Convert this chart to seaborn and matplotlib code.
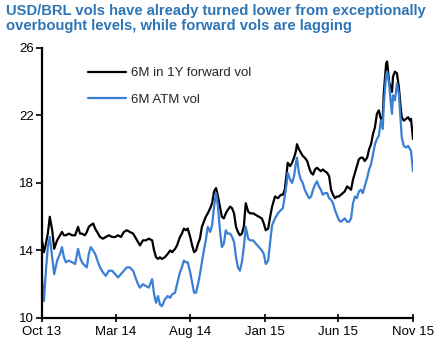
import numpy as np
import pandas as pd
import matplotlib
matplotlib.use("Agg")
import matplotlib.pyplot as plt
import matplotlib.dates as mdates
import seaborn as sns
from matplotlib.lines import Line2D

start_date = "2013-10-01"
day_offsets = [0, 4, 8, 12, 16, 21, 25, 31, 37, 41, 45, 49, 55, 62, 68, 74, 78, 82, 88, 92,
               96, 100, 105, 109, 115, 119, 125, 131, 137, 144, 150, 156, 162, 168, 174, 180,
               187, 193, 197, 201, 207, 213, 219, 226, 230, 234, 238, 242, 246, 252, 258, 263,
               267, 273, 277, 283, 287, 291, 295, 299, 304, 308, 312, 316, 320, 324, 328, 332,
               336, 340, 345, 349, 353, 357, 361, 365, 369, 373, 377, 381, 386, 390, 394, 398,
               402, 406, 410, 414, 418, 423, 427, 433, 439, 445, 451, 455, 459, 464, 468, 472,
               478, 484, 490, 494, 498, 502, 504, 509, 513, 517, 521, 523, 527, 531, 535, 539,
               544, 548, 552, 556, 560, 564, 568, 572, 576, 580, 585, 589, 593, 597, 601, 605,
               609, 613, 617, 621, 626, 630, 634, 638, 642, 646, 650, 654, 658, 662, 667, 671,
               675, 679, 683, 687, 691, 695, 699, 701, 706, 708, 712, 716, 718, 720, 724, 728,
               732, 736, 738, 742, 747, 751, 755, 757, 761]

fwd_vol = [14.6, 13.9, 14.4, 15.0, 16.0, 15.2, 14.1, 14.6, 14.9, 15.1, 14.9, 14.9, 15.0, 14.9,
           14.9, 15.4, 15.0, 15.0, 14.9, 15.1, 15.4, 15.5, 15.6, 15.3, 15.0, 14.8, 14.7, 14.8,
           14.9, 14.8, 14.8, 14.9, 14.8, 15.1, 15.2, 15.1, 15.0, 14.7, 14.5, 14.3, 14.6, 14.6,
           14.7, 14.6, 14.0, 13.6, 13.5, 13.6, 13.5, 13.6, 13.8, 14.0, 13.9, 14.1, 14.3, 14.8,
           15.0, 15.3, 15.2, 15.3, 14.8, 14.3, 13.9, 14.0, 14.4, 14.7, 15.4, 15.7, 16.0, 16.2,
           16.5, 16.8, 17.5, 17.7, 17.2, 16.6, 16.0, 15.9, 16.2, 16.4, 16.6, 16.5, 16.2, 15.4,
           15.1, 14.9, 15.0, 15.4, 16.8, 16.3, 16.2, 16.2, 16.1, 16.0, 15.9, 15.6, 15.2, 15.3,
           16.0, 16.6, 17.2, 17.1, 17.3, 17.3, 17.6, 18.6, 19.2, 19.0, 19.2, 19.5, 19.9, 20.3,
           20.0, 19.8, 19.6, 19.5, 19.3, 18.9, 18.6, 18.5, 18.8, 18.9, 18.8, 18.7, 18.8, 18.7,
           18.6, 18.4, 17.6, 17.3, 17.1, 17.2, 17.2, 17.3, 17.4, 17.5, 17.8, 17.7, 17.6, 18.2,
           18.6, 19.0, 19.4, 19.5, 19.5, 19.3, 19.5, 20.0, 20.3, 20.9, 21.3, 22.1, 22.3, 21.8,
           21.9, 23.3, 25.1, 25.2, 24.0, 23.6, 23.4, 24.3, 24.6, 24.5, 23.7, 22.4, 21.9, 21.7,
           21.8, 21.9, 21.7, 21.8, 20.6]

atm_vol = [12.4, 11.0, 12.8, 14.2, 14.8, 13.6, 12.6, 13.4, 13.8, 14.2, 13.6, 13.3, 13.4, 13.3,
           13.2, 14.1, 13.6, 13.3, 13.1, 13.0, 13.8, 14.2, 14.0, 13.8, 13.3, 13.0, 12.7, 12.5,
           12.8, 12.8, 12.6, 12.4, 12.6, 12.8, 13.0, 13.0, 12.8, 12.3, 12.0, 11.8, 12.0, 11.9,
           11.8, 12.3, 11.4, 10.9, 11.3, 10.8, 10.7, 11.1, 11.3, 11.2, 11.4, 11.5, 12.0, 12.7,
           13.0, 13.4, 13.3, 13.3, 12.7, 12.1, 11.5, 11.5, 12.0, 12.6, 13.3, 14.0, 14.6, 15.4,
           15.1, 15.5, 16.6, 17.4, 16.6, 15.2, 14.2, 14.4, 15.2, 15.0, 15.0, 14.8, 14.5, 13.6,
           13.0, 12.8, 13.3, 14.2, 15.4, 14.7, 14.6, 14.6, 14.4, 14.2, 14.0, 13.8, 13.2, 13.4,
           14.5, 15.5, 15.9, 16.2, 16.4, 16.5, 17.2, 18.0, 18.6, 18.2, 18.0, 18.4, 19.2, 19.5,
           18.6, 18.2, 18.0, 17.6, 17.3, 17.1, 17.2, 17.6, 17.9, 18.1, 17.8, 17.6, 17.3, 17.4,
           17.4, 17.1, 17.0, 16.8, 16.4, 16.1, 15.8, 15.7, 15.8, 15.9, 15.7, 15.7, 15.9, 16.8,
           17.2, 17.1, 17.5, 17.6, 17.4, 17.8, 18.3, 18.8, 19.1, 19.7, 20.3, 20.6, 20.8, 21.7,
           21.2, 22.6, 24.4, 24.6, 23.9, 22.6, 22.1, 23.2, 22.9, 23.9, 23.3, 21.5, 20.7, 20.2,
           20.1, 20.2, 20.0, 19.9, 18.7]

series_names = ["6M in 1Y forward vol", "6M ATM vol"]
y_ticks = [10, 14, 18, 22, 26]
x_tick_dates = ["2013-10-01", "2014-03-01", "2014-08-01", "2015-01-01", "2015-06-01", "2015-11-01"]
x_tick_labels = ["Oct 13", "Mar 14", "Aug 14", "Jan 15", "Jun 15", "Nov 15"]
title = "USD/BRL vols have already turned lower from exceptionally\noverbought levels, while forward vols are lagging"

dates = pd.Timestamp(start_date) + pd.to_timedelta(day_offsets, unit="D")
df = pd.concat([
    pd.DataFrame({"date": dates, "vol": fwd_vol, "series": series_names[0]}),
    pd.DataFrame({"date": dates, "vol": atm_vol, "series": series_names[1]}),
])

sns.set_theme(style="white")
plt.rcParams["font.family"] = ["Liberation Sans", "DejaVu Sans"]

fig = plt.figure(figsize=(4.36, 3.47), dpi=100)
ax = fig.add_axes([0.0963, 0.0836, 0.8509, 0.7781])

palette = {series_names[0]: "#000000", series_names[1]: "#3A7FD5"}
sns.lineplot(data=df, x="date", y="vol", hue="series", palette=palette,
             linewidth=1.6, ax=ax, legend=False)

ax.set_xlim(pd.Timestamp(x_tick_dates[0]), pd.Timestamp(x_tick_dates[-1]))
ax.set_ylim(10, 26)
ax.set_yticks(y_ticks)
ax.set_yticklabels([str(t) for t in y_ticks], fontsize=9.5, color="black")
ax.set_xticks([pd.Timestamp(d) for d in x_tick_dates])
ax.set_xticklabels(x_tick_labels, fontsize=9.5, color="black")
ax.set_xlabel("")
ax.set_ylabel("")

for s in ["top", "right"]:
    ax.spines[s].set_visible(False)
for s in ["left", "bottom"]:
    ax.spines[s].set_color("black")
    ax.spines[s].set_linewidth(1.6)

ax.tick_params(axis="y", direction="out", length=4, width=1.2, color="black", pad=2, left=True)
ax.tick_params(axis="x", direction="inout", length=6, width=1.2, color="black", pad=3, bottom=True)

handles = [Line2D([0], [0], color=palette[n], linewidth=1.6) for n in series_names]
ax.legend(handles, series_names, loc="upper left", bbox_to_anchor=(0.124, 0.93),
          frameon=False, fontsize=9.5, handlelength=2.9, handletextpad=0.35,
          labelspacing=1.1, borderpad=0, borderaxespad=0)

fig.text(0.014, 0.988, title, ha="left", va="top", fontsize=10.6, fontweight="bold",
         color="#2E75B6", linespacing=1.12)

fig.savefig("out.png", dpi=100)
